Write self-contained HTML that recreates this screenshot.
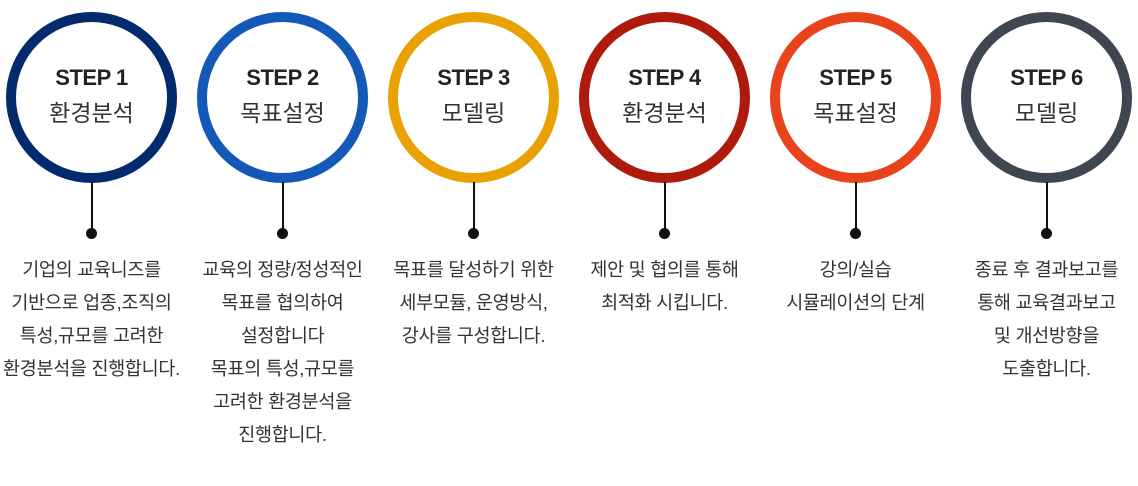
<!DOCTYPE html>
<html><head><meta charset="utf-8"><style>
body{margin:0;width:1138px;height:486px;background:#fff;position:relative;overflow:hidden;font-family:"Liberation Sans","Noto Sans CJK KR",sans-serif;color:#222}
.s{position:absolute;top:0;width:191px}
.c{position:absolute;left:6px;top:12px;width:151px;height:151px;border:10px solid;border-radius:50%;background:#fff}
.t1{position:absolute;left:0;width:183px;top:65px;text-align:center;font-weight:bold;font-size:22px;letter-spacing:-0.5px}
.t2{position:absolute;left:0;width:183px;top:94px;text-align:center;font-size:23px;color:#333}
.l{position:absolute;left:91px;top:182px;width:1.5px;height:50px;background:#111}
.d{position:absolute;left:86px;top:228px;width:11px;height:11px;border-radius:50%;background:#111}
.x{position:absolute;left:-30px;width:243px;top:253px;text-align:center;font-size:18.5px;line-height:33px;color:#333;letter-spacing:-0.3px}
</style></head><body>
<div class="s" style="left:0"><div class="c" style="border-color:#032a6c"></div><div class="t1">STEP 1</div><div class="t2">환경분석</div><div class="l"></div><div class="d"></div><div class="x">기업의 교육니즈를<br>기반으로 업종,조직의<br>특성,규모를 고려한<br>환경분석을 진행합니다.</div></div>
<div class="s" style="left:191px"><div class="c" style="border-color:#1458b8"></div><div class="t1">STEP 2</div><div class="t2">목표설정</div><div class="l"></div><div class="d"></div><div class="x">교육의 정량/정성적인<br>목표를 협의하여<br>설정합니다<br>목표의 특성,규모를<br>고려한 환경분석을<br>진행합니다.</div></div>
<div class="s" style="left:382px"><div class="c" style="border-color:#e8a100"></div><div class="t1">STEP 3</div><div class="t2">모델링</div><div class="l"></div><div class="d"></div><div class="x">목표를 달성하기 위한<br>세부모듈, 운영방식,<br>강사를 구성합니다.</div></div>
<div class="s" style="left:573px"><div class="c" style="border-color:#ae1a0c"></div><div class="t1">STEP 4</div><div class="t2">환경분석</div><div class="l"></div><div class="d"></div><div class="x">제안 및 협의를 통해<br>최적화 시킵니다.</div></div>
<div class="s" style="left:764px"><div class="c" style="border-color:#e8431a"></div><div class="t1">STEP 5</div><div class="t2">목표설정</div><div class="l"></div><div class="d"></div><div class="x">강의/실습<br>시뮬레이션의 단계</div></div>
<div class="s" style="left:955px"><div class="c" style="border-color:#3f4650"></div><div class="t1">STEP 6</div><div class="t2">모델링</div><div class="l"></div><div class="d"></div><div class="x">종료 후 결과보고를<br>통해 교육결과보고<br>및 개선방향을<br>도출합니다.</div></div>
</body></html>
